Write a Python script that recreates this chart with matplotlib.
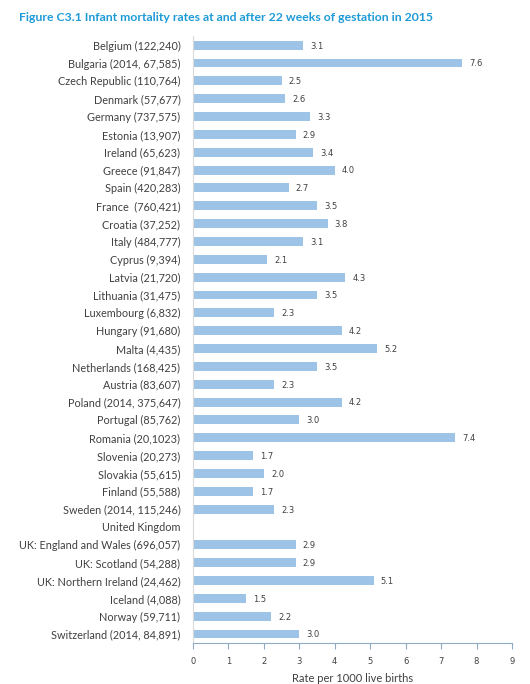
import numpy as np
import matplotlib.pyplot as plt

plt.rcParams['font.family'] = ['Lato', 'DejaVu Sans']

# --- Data ---
countries = [
    "Belgium (122,240)", "Bulgaria (2014, 67,585)", "Czech Republic (110,764)",
    "Denmark (57,677)", "Germany (737,575)", "Estonia (13,907)", "Ireland (65,623)",
    "Greece (91,847)", "Spain (420,283)", "France  (760,421)", "Croatia (37,252)",
    "Italy (484,777)", "Cyprus (9,394)", "Latvia (21,720)", "Lithuania (31,475)",
    "Luxembourg (6,832)", "Hungary (91,680)", "Malta (4,435)", "Netherlands (168,425)",
    "Austria (83,607)", "Poland (2014, 375,647)", "Portugal (85,762)",
    "Romania (20,1023)", "Slovenia (20,273)", "Slovakia (55,615)", "Finland (55,588)",
    "Sweden (2014, 115,246)", "United Kingdom", "UK: England and Wales (696,057)",
    "UK: Scotland (54,288)", "UK: Northern Ireland (24,462)", "Iceland (4,088)",
    "Norway (59,711)", "Switzerland (2014, 84,891)",
]
rates = [
    3.1, 7.6, 2.5, 2.6, 3.3, 2.9, 3.4, 4.0, 2.7, 3.5, 3.8, 3.1, 2.1, 4.3, 3.5,
    2.3, 4.2, 5.2, 3.5, 2.3, 4.2, 3.0, 7.4, 1.7, 2.0, 1.7, 2.3, np.nan, 2.9,
    2.9, 5.1, 1.5, 2.2, 3.0,
]
x_ticks = list(range(0, 10))

BAR_COLOR = "#9DC3E6"
TITLE_COLOR = "#1E9BD7"
TEXT_COLOR = "#404040"

# --- Figure ---
fig = plt.figure(figsize=(5.3, 6.84), dpi=100)
ax = fig.add_axes([0.364, 0.060, 0.602, 0.887])

y = np.arange(len(countries))
vals = np.nan_to_num(np.array(rates, dtype=float))
ax.barh(y, vals, height=0.5, color=BAR_COLOR)

for yi, v in zip(y, rates):
    if not np.isnan(v):
        ax.text(v + 0.2, yi + 0.05, f"{v:.1f}", va="center", ha="left",
                fontsize=6, color=TEXT_COLOR, family="DejaVu Sans")

ax.set_ylim(len(countries) - 0.5, -0.5)
ax.set_xlim(0, 9)
ax.set_yticks(y)
ax.set_yticklabels(countries, fontsize=7.8, color=TEXT_COLOR)
ax.tick_params(axis="y", length=0, pad=9)
ax.set_xticks(x_ticks)
ax.set_xticklabels([str(t) for t in x_ticks], fontsize=6, color=TEXT_COLOR,
                   family="DejaVu Sans")
ax.tick_params(axis="x", length=4, direction="out", color="#8EA9C1", pad=6)

for side in ["top", "right"]:
    ax.spines[side].set_visible(False)
ax.spines["left"].set_color("#D9D9D9")
ax.spines["bottom"].set_color("#8EA9C1")

ax.set_xlabel("Rate per 1000 live births", fontsize=8, color=TEXT_COLOR, labelpad=5)

fig.text(0.036, 0.982, "Figure C3.1 Infant mortality rates at and after 22 weeks of gestation in 2015",
         fontsize=8.8, fontweight="bold", color=TITLE_COLOR, ha="left", va="top")

fig.savefig("out.png", dpi=100)
